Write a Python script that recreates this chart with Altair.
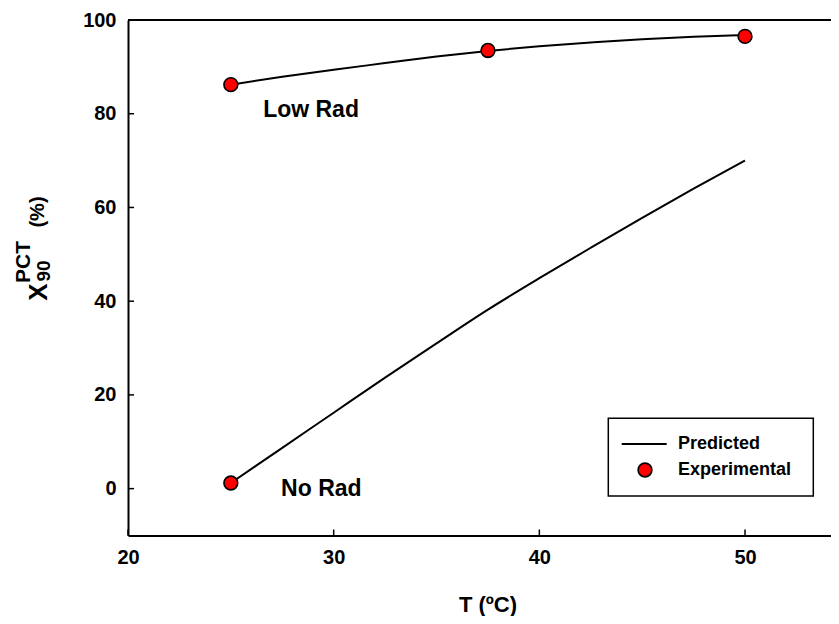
import altair as alt
import pandas as pd

# ---- data ----
temps_pred = [25, 27.5, 30, 32.5, 35, 37.5, 40, 42.5, 45, 47.5, 50]
low_rad_pred = [86.2, 87.9, 89.4, 90.8, 92.2, 93.4, 94.4, 95.2, 95.9, 96.4, 96.8]
no_rad_pred = [1.2, 8.7, 16.2, 23.7, 31.0, 38.2, 44.9, 51.4, 57.8, 64.0, 70.0]

low_rad_exp_t = [25, 37.5, 50]
low_rad_exp = [86.2, 93.5, 96.5]
no_rad_exp_t = [25]
no_rad_exp = [1.2]

label_text = ["Low Rad", "No Rad"]
label_t = [28.9, 29.4]
label_y = [80.9, 0.0]

x_ticks = [20, 30, 40, 50]
y_ticks = [0, 20, 40, 60, 80, 100]

FONT = "Liberation Sans"
TOP = 12
W, H = 703, 515.5
DY = 8.5 - TOP  # shift for pixel-placed decorations

xscale = alt.Scale(domain=[20, 54.18], nice=False, zero=False)
yscale = alt.Scale(domain=[-10, 100], nice=False, zero=False)

pred_df = pd.DataFrame({
    "T": temps_pred * 2,
    "X": low_rad_pred + no_rad_pred,
    "series": ["Low Rad"] * len(temps_pred) + ["No Rad"] * len(temps_pred),
})
exp_df = pd.DataFrame({
    "T": low_rad_exp_t + no_rad_exp_t,
    "X": low_rad_exp + no_rad_exp,
})
lab_df = pd.DataFrame({"T": label_t, "X": label_y, "text": label_text})
xt_df = pd.DataFrame({"T": x_ticks})
yt_df = pd.DataFrame({"X": y_ticks})
one = pd.DataFrame({"k": [0]})

x_axis = alt.Axis(values=x_ticks, title=None, grid=False, ticks=False,
                  labelFontSize=20, labelFontWeight="bold", labelColor="black",
                  labelFont=FONT, labelPadding=12, labelFlush=False,
                  domainColor="black", domainWidth=2)
y_axis = alt.Axis(values=y_ticks, title=None, grid=False, ticks=False,
                  labelFontSize=20, labelFontWeight="bold", labelColor="black",
                  labelFont=FONT, labelPadding=12,
                  domainColor="black", domainWidth=2)

X = alt.X("T:Q", scale=xscale, axis=x_axis)
Y = alt.Y("X:Q", scale=yscale, axis=y_axis)

lines = alt.Chart(pred_df).mark_line(color="black", strokeWidth=2, interpolate="monotone").encode(
    x=X, y=Y, detail="series:N",
)

points = alt.Chart(exp_df).mark_point(
    shape="circle", filled=True, fill="#ff0000", stroke="black", strokeWidth=1.6,
    size=190, opacity=1
).encode(x=X, y=Y)

labels = alt.Chart(lab_df).mark_text(
    font=FONT, fontSize=23, fontWeight="bold", color="black",
    align="center", baseline="middle"
).encode(x=X, y=Y, text="text:N")

xticks = alt.Chart(xt_df).mark_rule(color="black", strokeWidth=1.5).encode(
    x=X, y=alt.value(H), y2=alt.value(H - 6),
)
yticks = alt.Chart(yt_df).mark_rule(color="black", strokeWidth=1.5).encode(
    y=Y, x=alt.value(0), x2=alt.value(6),
)

top_border = alt.Chart(one).mark_rule(color="black", strokeWidth=2).encode(
    x=alt.value(0), x2=alt.value(W), y=alt.value(0)
)

# legend
leg_box = alt.Chart(one).mark_rect(fill="white", stroke="black", strokeWidth=1.5).encode(
    x=alt.value(480.3), x2=alt.value(685.3), y=alt.value(401.8 + DY), y2=alt.value(479.5 + DY)
)
leg_line = alt.Chart(one).mark_rule(color="black", strokeWidth=2).encode(
    x=alt.value(493.7), x2=alt.value(538.7), y=alt.value(427.5 + DY)
)
leg_pt = alt.Chart(one).mark_point(
    shape="circle", filled=True, fill="#ff0000", stroke="black", strokeWidth=1.6,
    size=190, opacity=1
).encode(x=alt.value(517), y=alt.value(453.5 + DY))
leg_t1 = alt.Chart(one).mark_text(
    text="Predicted", font=FONT, fontSize=18, fontWeight="bold", color="black",
    align="left", baseline="middle"
).encode(x=alt.value(550), y=alt.value(427.5 + DY))
leg_t2 = alt.Chart(one).mark_text(
    text="Experimental", font=FONT, fontSize=18, fontWeight="bold", color="black",
    align="left", baseline="middle"
).encode(x=alt.value(550), y=alt.value(453.5 + DY))

# axis titles
def rot_text(txt, x, y, size):
    return alt.Chart(one).mark_text(
        text=txt, font=FONT, fontSize=size, fontWeight="bold", color="black",
        align="center", baseline="middle", angle=270
    ).encode(x=alt.value(x), y=alt.value(y + DY))

ytitle_X = rot_text("X", -89, 275.5, 26)
ytitle_PCT = rot_text("PCT", -104.5, 245.5, 21)
ytitle_90 = rot_text("90", -84.5, 254.5, 19)
ytitle_pct = rot_text("(%)", -90.5, 195.5, 20)

xtitle = alt.Chart(one).mark_text(
    text="T (ºC)", font=FONT, fontSize=22, fontWeight="bold", color="black",
    align="center", baseline="middle"
).encode(x=alt.value(360), y=alt.value(588.5 + DY))

chart = alt.layer(
    top_border, xticks, yticks, lines, points, labels,
    leg_box, leg_line, leg_pt, leg_t1, leg_t2,
    ytitle_X, ytitle_PCT, ytitle_90, ytitle_pct, xtitle,
).properties(
    width=W, height=H,
    autosize=alt.AutoSizeParams(type="none"),
    padding={"left": 120, "top": TOP, "right": 0, "bottom": 80},
    background="white",
).configure_view(stroke=None)

chart.save("out.html", embed_options={"renderer": "svg", "actions": False})
